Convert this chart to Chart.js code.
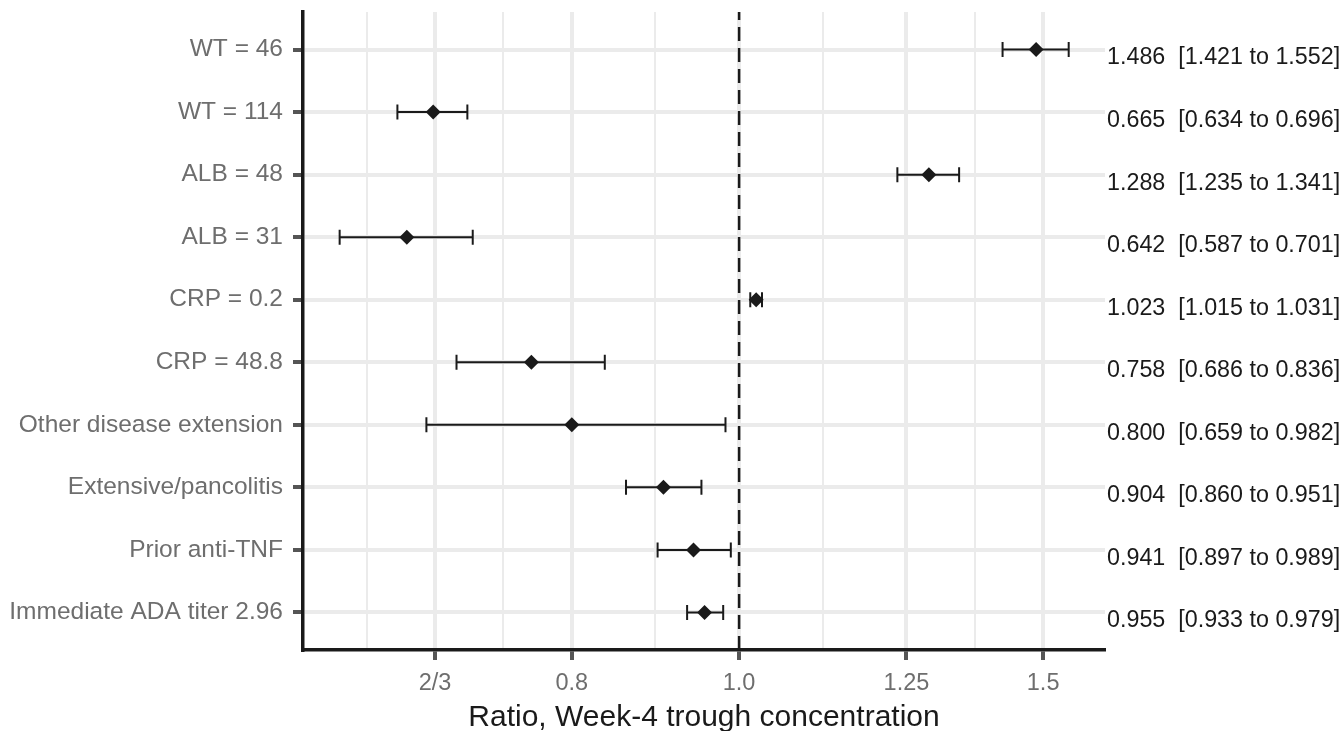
<!DOCTYPE html>
<html>
<head>
<meta charset="utf-8">
<script src="https://cdn.jsdelivr.net/npm/chart.js@4/dist/chart.umd.min.js"></script>
<style>
  html, body { margin: 0; padding: 0; background: #fff; }
  #wrap { width: 1343px; height: 731px; position: relative; }
</style>
</head>
<body>
<div id="wrap"><canvas id="forest"></canvas></div>
<script>
const labels = [
  "WT = 46",
  "WT = 114",
  "ALB = 48",
  "ALB = 31",
  "CRP = 0.2",
  "CRP = 48.8",
  "Other disease extension",
  "Extensive/pancolitis",
  "Prior anti-TNF",
  "Immediate ADA titer 2.96"
];
const est = [1.486, 0.665, 1.288, 0.642, 1.023, 0.758, 0.800, 0.904, 0.941, 0.955];
const lower = [1.421, 0.634, 1.235, 0.587, 1.015, 0.686, 0.659, 0.860, 0.897, 0.933];
const upper = [1.552, 0.696, 1.341, 0.701, 1.031, 0.836, 0.982, 0.951, 0.989, 0.979];

const xTicks = [2 / 3, 0.8, 1.0, 1.25, 1.5];
const xTickLabels = ["2/3", "0.8", "1.0", "1.25", "1.5"];
const xMinor = [0.6086, 0.7303, 0.8944, 1.118, 1.369];
const refValue = 1;

const gridColor = "#ebebeb";
const axisColor = "#1a1a1a";
const labelColor = "#6e6e6e";

Chart.defaults.font.family = "'Liberation Sans', Arial, sans-serif";

const forestLines = {
  id: "forestLines",
  beforeDatasetsDraw(chart) {
    const { ctx, chartArea, scales } = chart;
    const x = scales.x;
    const y = scales.y;

    // reference line at ratio 1
    const rx = x.getPixelForValue(refValue);
    ctx.save();
    ctx.strokeStyle = axisColor;
    ctx.lineWidth = 2.5;
    ctx.setLineDash([14, 7]);
    ctx.lineDashOffset = 6;
    ctx.beginPath();
    ctx.moveTo(rx, chartArea.top);
    ctx.lineTo(rx, chartArea.bottom);
    ctx.stroke();
    ctx.restore();

    // confidence intervals
    ctx.save();
    ctx.strokeStyle = axisColor;
    ctx.lineWidth = 2;
    est.forEach((v, i) => {
      const py = y.getPixelForValue(i + 1);
      const x0 = x.getPixelForValue(lower[i]);
      const x1 = x.getPixelForValue(upper[i]);
      ctx.beginPath();
      ctx.moveTo(x0, py);
      ctx.lineTo(x1, py);
      ctx.moveTo(x0, py - 7.5);
      ctx.lineTo(x0, py + 7.5);
      ctx.moveTo(x1, py - 7.5);
      ctx.lineTo(x1, py + 7.5);
      ctx.stroke();
    });
    ctx.restore();
  },
  afterDraw(chart) {
    const { ctx, chartArea, scales } = chart;
    ctx.save();
    ctx.fillStyle = axisColor;
    ctx.font = "23.3px 'Liberation Sans', Arial, sans-serif";
    ctx.textAlign = "left";
    ctx.textBaseline = "middle";
    est.forEach((v, i) => {
      const py = scales.y.getPixelForValue(i + 1) + 8.5;
      const txt = v.toFixed(3) + "  [" + lower[i].toFixed(3) + " to " + upper[i].toFixed(3) + "]";
      ctx.fillText(txt, chartArea.right + 2, py);
    });
    ctx.restore();
  }
};

new Chart(document.getElementById("forest"), {
  type: "scatter",
  data: {
    datasets: [
      {
        data: est.map((v, i) => ({ x: v, y: i + 1 })),
        pointStyle: "rectRot",
        pointRadius: 7.5,
        pointHoverRadius: 7.5,
        backgroundColor: axisColor,
        borderWidth: 0
      }
    ]
  },
  options: {
    responsive: true,
    maintainAspectRatio: false,
    animation: false,
    layout: {
      padding: { top: 12, right: 238, left: 0, bottom: 0 }
    },
    plugins: {
      legend: { display: false },
      tooltip: { enabled: false }
    },
    scales: {
      x: {
        type: "logarithmic",
        min: 0.559,
        max: 1.629,
        afterBuildTicks(scale) {
          const all = xTicks.map(v => ({ value: v, major: true }))
            .concat(xMinor.map(v => ({ value: v, major: false })));
          all.sort((a, b) => a.value - b.value);
          scale.ticks = all;
        },
        afterFit(scale) {
          scale.height = 81;
          scale.paddingLeft = 0;
          scale.paddingRight = 0;
        },
        ticks: {
          autoSkip: false,
          maxRotation: 0,
          color: labelColor,
          font: { size: 23.5 },
          padding: 9,
          callback(value) {
            const k = xTicks.findIndex(t => Math.abs(t - value) < 1e-6);
            return k >= 0 ? xTickLabels[k] : "";
          }
        },
        grid: {
          color: gridColor,
          lineWidth: ctx => (ctx.tick && ctx.tick.major ? 4 : 2),
          tickColor: ctx => (ctx.tick && ctx.tick.major ? "#555555" : "rgba(0,0,0,0)"),
          tickWidth: 4,
          tickLength: 10
        },
        border: { display: true, color: axisColor, width: 3.5 },
        title: {
          display: true,
          text: "Ratio, Week-4 trough concentration",
          color: axisColor,
          font: { size: 30, lineHeight: 0.9 },
          padding: { top: 0, bottom: 0 }
        }
      },
      y: {
        type: "linear",
        reverse: true,
        min: 0.4,
        max: 10.6,
        afterBuildTicks(scale) {
          scale.ticks = labels.map((l, i) => ({ value: i + 1 }));
        },
        afterFit(scale) {
          scale.width = 303;
          scale.paddingTop = 0;
          scale.paddingBottom = 0;
        },
        ticks: {
          autoSkip: false,
          color: labelColor,
          font: { size: 24.5 },
          padding: 10,
          callback(value) {
            return labels[Math.round(value) - 1];
          }
        },
        grid: {
          color: gridColor,
          lineWidth: 4,
          tickColor: "#555555",
          tickWidth: 4,
          tickLength: 10
        },
        border: { display: true, color: axisColor, width: 3.5 }
      }
    }
  },
  plugins: [forestLines]
});
</script>
</body>
</html>
